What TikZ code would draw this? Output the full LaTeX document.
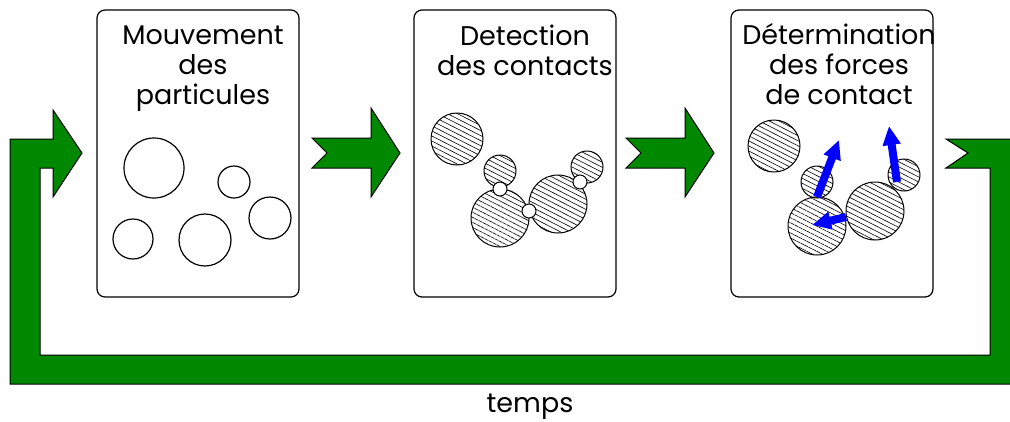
\documentclass[tikz,border=0pt]{standalone}
\usepackage{fontspec}
\setmainfont{Poppins}
\usetikzlibrary{positioning, arrows.meta, patterns.meta}
\definecolor{vertfleche}{RGB}{0, 136, 0}
\definecolor{bleuforce}{RGB}{0, 0, 255}

\begin{document}
\begin{tikzpicture}[x=1pt, y=-1pt,
  boite/.style={draw, line width=1.2pt, rounded corners=8pt, minimum width=202pt, minimum height=287pt},
  titre/.style={font=\fontsize{27}{30}\selectfont, align=center, inner sep=0pt},
  fleche/.style={draw=black, line width=1pt, fill=vertfleche},
  libre/.style={draw, line width=1.2pt},
  grain/.style={draw, line width=1pt, pattern={Lines[angle=-27, distance=4.5pt, line width=0.6pt]}, pattern color=black},
  contact/.style={draw, line width=1pt, fill=white},
  force/.style={bleuforce, line width=8pt, -{Triangle[length=19pt, width=17pt]}}]
  \useasboundingbox (0,0) rectangle (1010,421);
  \clip (0,0) rectangle (1010,421);

  % boucle du temps
  \draw[fleche] (82,153) -- (53,197) -- (53,168) -- (40,168) -- (40,355) -- (990,355)
    -- (990,168) -- (946,168) -- (968,153) -- (946,139) -- (1020,139) -- (1020,384)
    -- (10,384) -- (10,139) -- (53,139) -- (53,110) -- cycle;
  \node[titre, anchor=base] (temps) at (530,412) {temps};

  % fleches entre les etapes
  \foreach \dx in {0, 314}
    \draw[fleche, xshift=\dx] (312,138) -- (371,138) -- (371,108) -- (400,153) -- (371,197)
      -- (371,168) -- (312,168) -- (327,153) -- cycle;

  % etapes
  \node[boite] (mouvement) at (198,153.5) {};
  \node[boite] (detection) at (515,153.5) {};
  \node[boite] (forces) at (832,153.5) {};

  \node[titre, anchor=base] (tmouvement) at (203,104) {Mouvement\\des\hspace*{20pt}\\particules};
  \node[titre, anchor=base] (tdetection) at (525,75) {Detection\\des contacts};
  \node[titre, anchor=base] (tforces) at (839,104) {Détermination\\des forces\\de contact};

  % particules libres
  \draw[libre] (154,168) circle[radius=30pt];
  \draw[libre] (234,182) circle[radius=16pt];
  \draw[libre] (270,218) circle[radius=21pt];
  \draw[libre] (133,239) circle[radius=20pt];
  \draw[libre] (205,240) circle[radius=26pt];

  % particules en contact
  \draw[grain] (457,139) circle[radius=26pt];
  \draw[grain] (500,171) circle[radius=16pt];
  \draw[grain] (500,218) circle[radius=29pt];
  \draw[grain] (558,204) circle[radius=29pt];
  \draw[grain] (587,167) circle[radius=16pt];
  \draw[contact] (500,189) circle[radius=7pt];
  \draw[contact] (529,211) circle[radius=7pt];
  \draw[contact] (580,182) circle[radius=7pt];

  % forces de contact
  \draw[grain] (774,146) circle[radius=26pt];
  \draw[grain] (817,182) circle[radius=16pt];
  \draw[grain] (817,226) circle[radius=29pt];
  \draw[grain] (875,211) circle[radius=29pt];
  \draw[grain] (904,175) circle[radius=16pt];
  \draw[force] (817,197) -- (839,140);
  \draw[force] (897,182) -- (889,126);
  \draw[force] (846,217) -- (812,225);
\end{tikzpicture}
\end{document}
